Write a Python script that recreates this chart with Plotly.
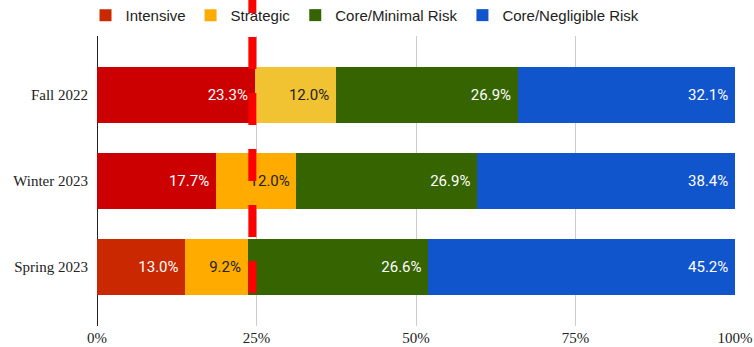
import plotly.graph_objects as go

# Terms, listed bottom to top on the category axis
terms = ["Spring 2023", "Winter 2023", "Fall 2022"]

# Share of students per support tier (%), same order as terms
intensive = [13.0, 17.7, 23.3]
strategic = [9.2, 12.0, 12.0]
core_minimal = [26.6, 26.9, 26.9]
core_negligible = [45.2, 38.4, 32.1]

series_names = ["Intensive", "Strategic", "Core/Minimal Risk", "Core/Negligible Risk"]
series_values = [intensive, strategic, core_minimal, core_negligible]
series_colors = [
    ["#c92800", "#cc0000", "#cc0000"],
    ["#ffab00", "#ffab00", "#f1c232"],
    ["#356400", "#356400", "#356400"],
    ["#1155cc", "#1155cc", "#1155cc"],
]
label_colors = ["#ffffff", "#222222", "#ffffff", "#ffffff"]

x_ticks = [0, 25, 50, 75, 100]
benchmark = 24.35  # reference line position (% of students)

fig = go.Figure()
for name, vals, cols, lc in zip(series_names, series_values, series_colors, label_colors):
    fig.add_trace(go.Bar(
        name=name,
        y=terms,
        x=vals,
        orientation="h",
        marker=dict(color=cols, line=dict(width=0)),
        # non-breaking space keeps the label off the segment's end
        text=[f"{v:.1f}%\u00a0" for v in vals],
        textposition="inside",
        insidetextanchor="end",
        textangle=0,
        constraintext="none",
        textfont=dict(family="Roboto", size=15, color=lc),
        hoverinfo="skip",
    ))

fig.add_shape(
    type="line",
    xref="x", yref="paper",
    x0=benchmark, x1=benchmark,
    y0=(326 - 293) / 290, y1=1.2,
    line=dict(color="#ff0000", width=8, dash="32px,24px"),
    layer="above",
)

fig.update_layout(
    width=754, height=347,
    margin=dict(l=97, r=19, t=36, b=21, autoexpand=False),
    barmode="stack",
    barnorm="percent",
    bargap=0.35,
    plot_bgcolor="white",
    paper_bgcolor="white",
    showlegend=True,
    legend=dict(
        orientation="h",
        x=-0.018, xanchor="left",
        y=1.128, yanchor="top",
        font=dict(family="Liberation Sans", size=15, color="#222222"),
        traceorder="normal",
        bgcolor="rgba(0,0,0,0)",
    ),
    xaxis=dict(
        range=[0, 100],
        tickvals=x_ticks,
        ticktext=[f"{t}%" for t in x_ticks],
        showgrid=True,
        gridcolor="#cccccc",
        gridwidth=1,
        zeroline=True,
        zerolinecolor="#222222",
        zerolinewidth=1,
        tickfont=dict(family="Liberation Serif", size=15, color="#222222"),
        ticks="",
        ticklabelstandoff=1,
        automargin=False,
        fixedrange=True,
    ),
    yaxis=dict(
        type="category",
        range=[-0.686, 2.686],
        showgrid=False,
        zeroline=False,
        ticks="",
        ticklabelstandoff=8,
        tickfont=dict(family="Liberation Serif", size=15, color="#222222"),
        automargin=False,
        fixedrange=True,
    ),
)

fig.write_html("out.html")
